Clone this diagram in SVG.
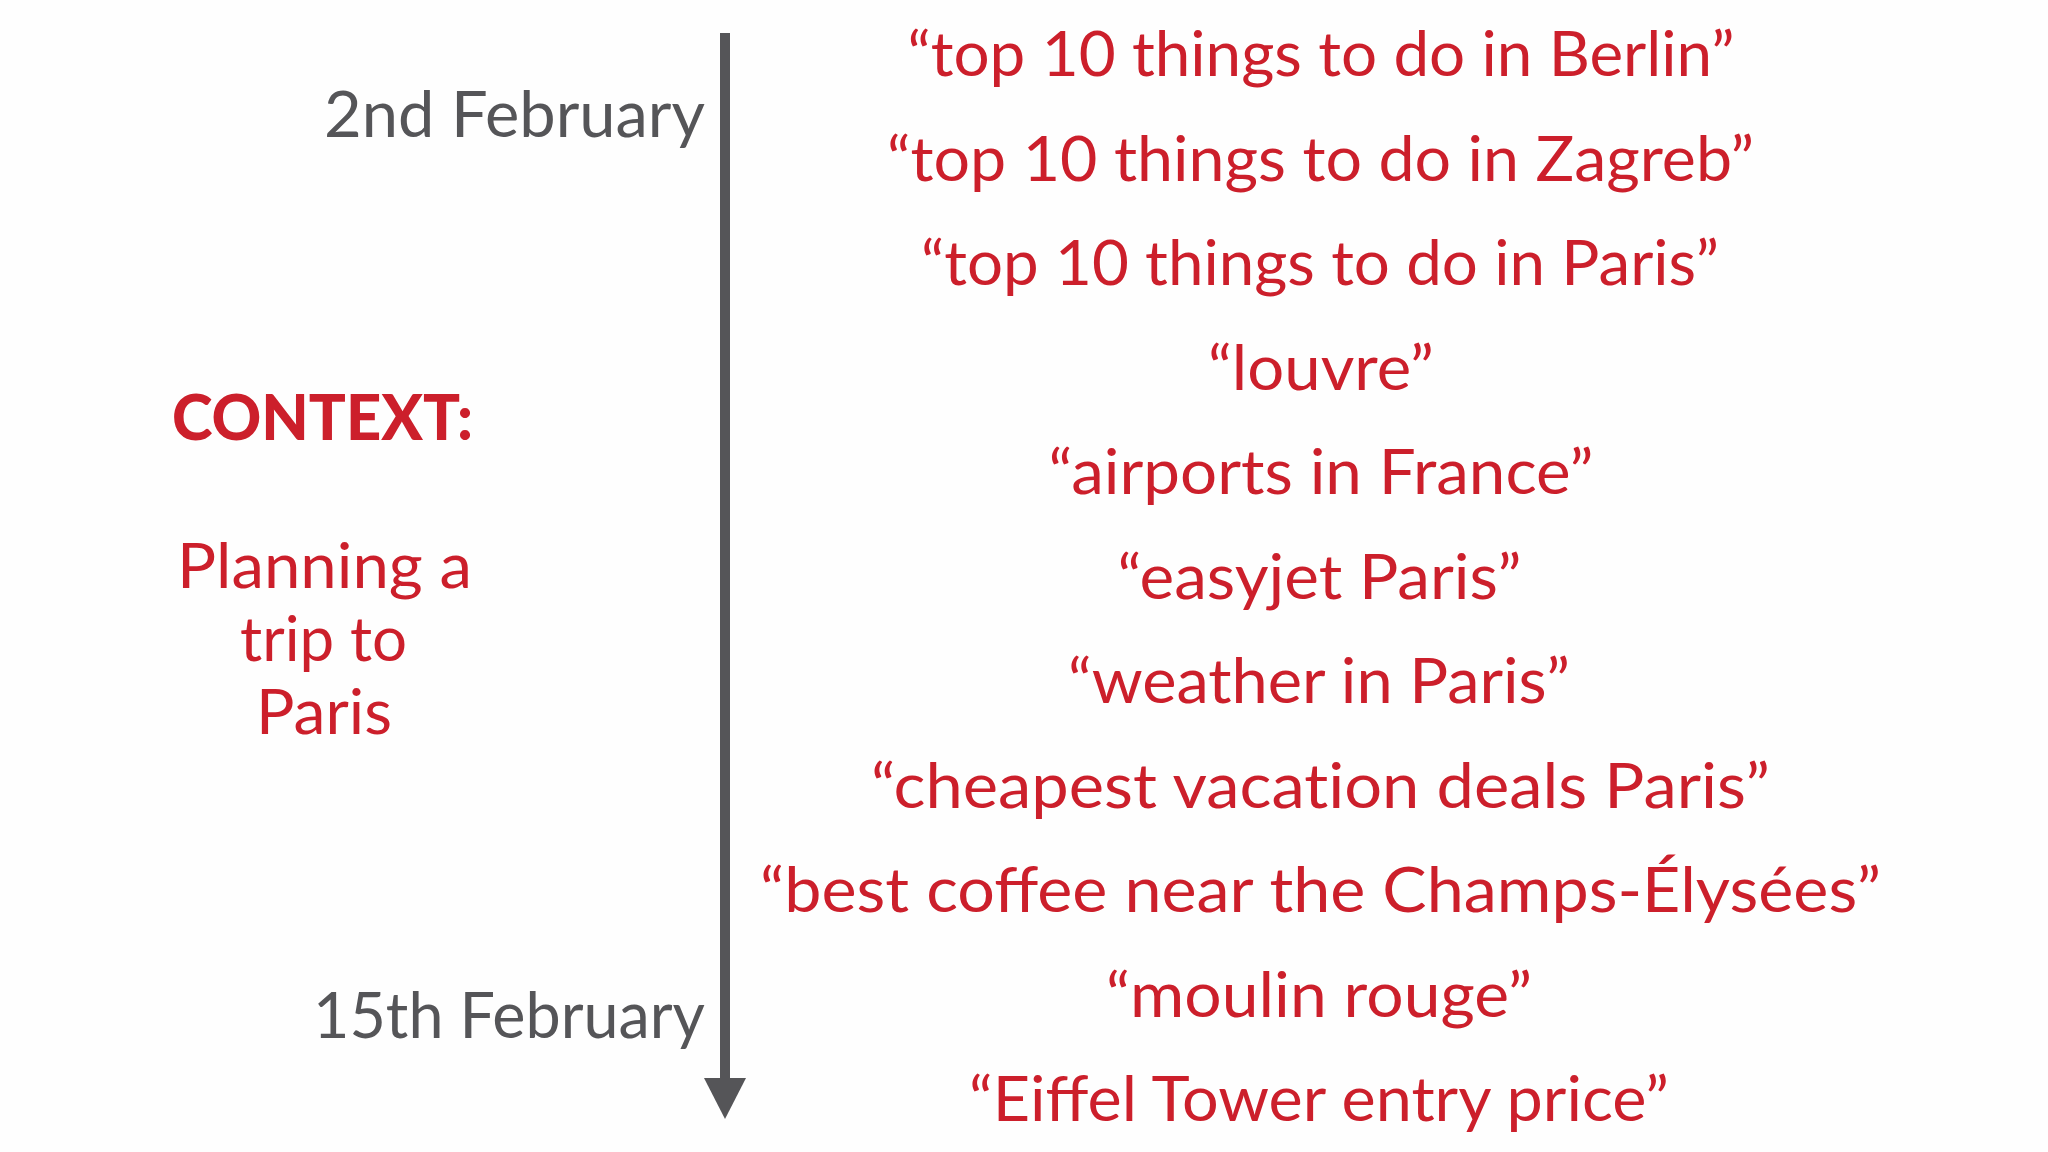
<svg xmlns="http://www.w3.org/2000/svg" width="2048" height="1152" viewBox="0 0 2048 1152">
<style>
.q{font-family:Lato,"Open Sans","Liberation Sans",sans-serif;font-size:62px;fill:#cc1f2b;text-anchor:middle}
.d{font-family:Lato,"Open Sans","Liberation Sans",sans-serif;font-size:63px;fill:#555558;text-anchor:end}
.c{font-family:Lato,"Open Sans","Liberation Sans",sans-serif;font-size:62px;fill:#cc1f2b;text-anchor:middle}
.cb{font-weight:900}
.nl{font-variant-ligatures:none;font-feature-settings:"liga" 0,"dlig" 0}
</style>
<rect width="2048" height="1152" fill="#fefefe"/>
<g id="connectors">
<line x1="725" y1="33" x2="725" y2="1080" stroke="#555558" stroke-width="10"/>
<polygon points="704,1078 746,1078 725,1119" fill="#555558"/>
</g>
<g id="date-start"><text class="d" x="705" y="137" textLength="381" lengthAdjust="spacingAndGlyphs">2nd February</text></g>
<g id="date-end"><text class="d" x="705" y="1038" textLength="392" lengthAdjust="spacingAndGlyphs">15th February</text></g>
<g id="context">
<text class="c cb" x="322.5" y="440" textLength="301" lengthAdjust="spacingAndGlyphs">CONTEXT:</text>
<text class="c" x="324.5" y="588" textLength="295" lengthAdjust="spacingAndGlyphs">Planning a</text>
<text class="c" x="323.5" y="661" textLength="167" lengthAdjust="spacingAndGlyphs">trip to</text>
<text class="c" x="324" y="734" textLength="136" lengthAdjust="spacingAndGlyphs">Paris</text>
</g>
<g id="searches">
<g id="s1"><text class="q" x="1321" y="76" textLength="827" lengthAdjust="spacingAndGlyphs">“top 10 things to do in Berlin”</text></g>
<g id="s2"><text class="q" x="1320.5" y="180.5" textLength="867" lengthAdjust="spacingAndGlyphs">“top 10 things to do in Zagreb”</text></g>
<g id="s3"><text class="q" x="1320" y="285" textLength="798" lengthAdjust="spacingAndGlyphs">“top 10 things to do in Paris”</text></g>
<g id="s4"><text class="q" x="1321" y="389.5" textLength="226" lengthAdjust="spacingAndGlyphs">“louvre”</text></g>
<g id="s5"><text class="q" x="1321" y="494" textLength="545" lengthAdjust="spacingAndGlyphs">“airports in France”</text></g>
<g id="s6"><text class="q" x="1319.5" y="598.5" textLength="404" lengthAdjust="spacingAndGlyphs">“easyjet Paris”</text></g>
<g id="s7"><text class="q" x="1319" y="703" textLength="502" lengthAdjust="spacingAndGlyphs">“weather in Paris”</text></g>
<g id="s8"><text class="q nl" x="1320.5" y="807.5" textLength="899" lengthAdjust="spacingAndGlyphs">“cheapest vacation deals Paris”</text></g>
<g id="s9"><text class="q" x="1320.5" y="912" textLength="1121" lengthAdjust="spacingAndGlyphs">“best coffee near the Champs-Élysées”</text></g>
<g id="s10"><text class="q" x="1319" y="1016.5" textLength="426" lengthAdjust="spacingAndGlyphs">“moulin rouge”</text></g>
<g id="s11"><text class="q" x="1319" y="1121" textLength="700" lengthAdjust="spacingAndGlyphs">“Eiffel Tower entry price”</text></g>
</g>
</svg>
